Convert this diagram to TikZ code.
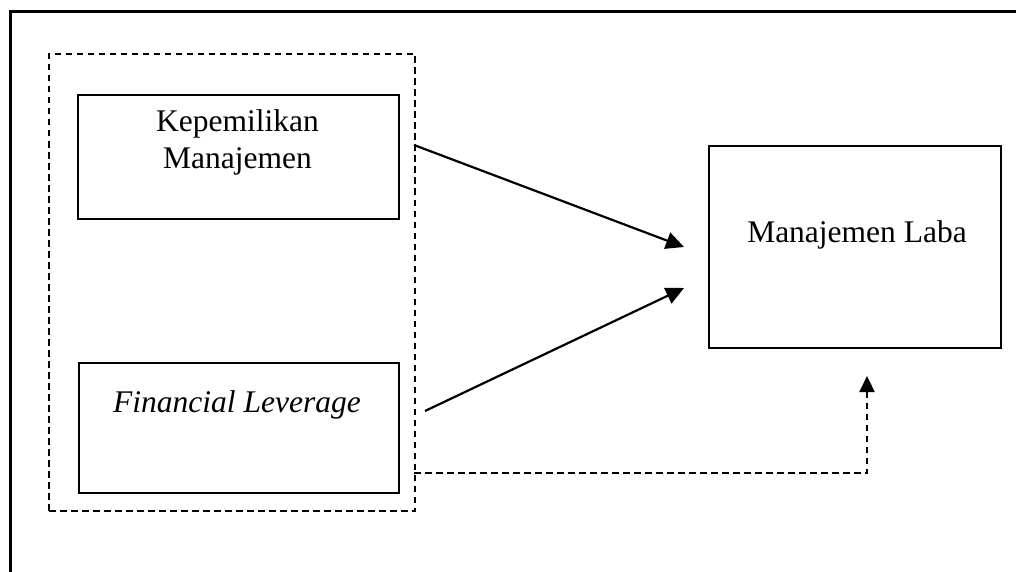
\documentclass[tikz,border=0pt]{standalone}
\usepackage{fontspec}
\setmainfont{Liberation Serif}
\usetikzlibrary{arrows.meta}
\tikzset{
  box/.style={draw, line width=2.4pt, inner sep=0pt, anchor=north west},
  grp/.style={draw, line width=2pt, dash pattern=on 6.5pt off 4.5pt, inner sep=0pt, anchor=north west},
  lbl/.style={font=\fontsize{31.5}{36}\selectfont, align=center, inner sep=0pt, anchor=base},
  arr/.style={line width=2.2pt, -{Triangle[length=18pt,width=17pt]}},
  darr/.style={line width=2.2pt, dash pattern=on 6.5pt off 4.5pt, -{Triangle[length=16pt,width=15pt]}}
}
\begin{document}
\begin{tikzpicture}[x=1pt,y=-1pt]
\useasboundingbox (0,0) rectangle (1016,572);
% outer frame (cropped)
\draw[line width=3pt] (10,572) -- (10,12) -- (1016,12);
% dashed group
\node[grp, minimum width=366pt, minimum height=457pt] (group) at (48,53) {};
% boxes
\node[box, minimum width=321pt, minimum height=124pt] (km) at (77,94) {};
\node[box, minimum width=320pt, minimum height=130pt] (fl) at (78,362) {};
\node[box, minimum width=292pt, minimum height=202pt] (ml) at (708,145) {};
% labels
\node[lbl] (kmt) at (237.5,132) {Kepemilikan};
\node[lbl] (kmt2) at (237.5,168) {Manajemen};
\node[lbl, font=\fontsize{31.5}{36}\selectfont\itshape] (flt) at (237,412) {Financial Leverage};
\node[lbl] (mlt) at (857,242) {Manajemen Laba};
% connector coordinates
\coordinate (a1s) at (414,145);
\coordinate (a1e) at (684,247);
\coordinate (a2s) at (425,411);
\coordinate (a2e) at (684,288);
\coordinate (d1s) at (414,473);
\coordinate (d1c) at (867,473);
\coordinate (d1e) at (867,376);
\draw[arr] (a1s) -- (a1e);
\draw[arr] (a2s) -- (a2e);
\draw[darr] (d1s) -- (d1c) -- (d1e);
\end{tikzpicture}
\end{document}
